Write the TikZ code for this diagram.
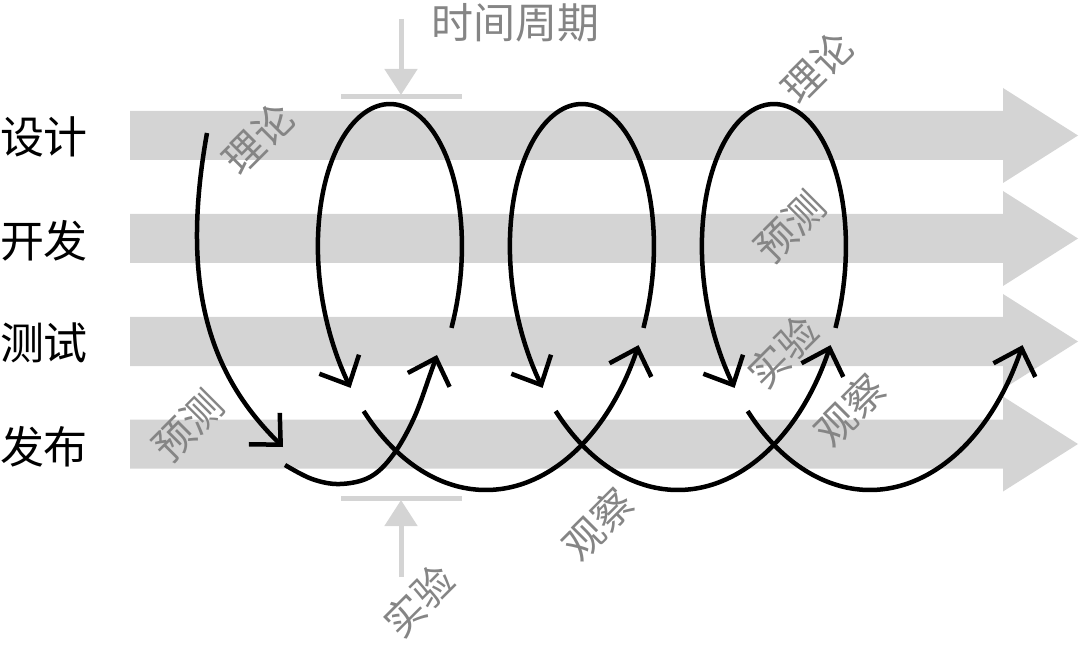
\documentclass[tikz,border=0pt]{standalone}
\usepackage{fontspec}
\setmainfont{Noto Sans CJK SC}
\usepackage{xcolor}
\usepackage{tikz}
\usetikzlibrary{arrows.meta}
\definecolor{bandgray}{HTML}{D4D4D4}
\definecolor{notegray}{HTML}{858585}
\newcommand{\coil}[3]{% turn, from, to
  \draw[loopline] plot[variable=\t, domain=#2:#3, samples=90]
    ({341.9+192*#1+30.56*\t+116*cos(\t r)}, {297-193*sin(\t r)});
}

\begin{document}
\begin{tikzpicture}[x=1pt,y=-1pt,
  loopline/.style={line width=4.5pt, -{Straight Barb[length=23pt,width=44pt]}},
  stage/.style={font=\fontsize{44}{44}\selectfont, text=black},
  phase/.style={font=\fontsize{40}{40}\selectfont, text=notegray, rotate=45},
  tick/.style={draw=bandgray, line width=5pt}]
\useasboundingbox (0,0) rectangle (1080,647);

% wide grey arrows, one per stage
\foreach \y in {135.5,238.5,341.5,444} {
  \fill[bandgray] (130,\y-24.5) -- (1003,\y-24.5) -- (1003,\y-47.5) -- (1078,\y)
    -- (1003,\y+47.5) -- (1003,\y+24.5) -- (130,\y+24.5) -- cycle;
}

% stage names
\node[stage] (design) at (44,137) {设计};
\node[stage] (develop) at (44,241) {开发};
\node[stage] (test) at (44,343) {测试};
\node[stage] (release) at (44,447) {发布};

% time period marks
\node[font=\fontsize{42}{42}\selectfont, text=notegray] (period) at (515,23) {时间周期};
\coordinate (topTail) at (401,19);
\coordinate (topTip) at (401,95);
\draw[tick, -{Triangle[length=26pt,width=32pt]}] (topTail) -- (topTip);
\draw[tick] (341,97) -- (462,97);
\coordinate (botTail) at (401,577);
\coordinate (botTip) at (401,500);
\draw[tick, -{Triangle[length=26pt,width=32pt]}] (botTail) -- (botTip);
\draw[tick] (341,498.5) -- (462,498.5);

% first turn
\draw[loopline] (207,133) .. controls (178,295) and (215,380) .. (283,447);
\draw[loopline] plot[smooth, tension=0.6] coordinates
  {(285,465) (312,479) (340,484) (370,477) (393,455) (414,418) (431,372) (437,355)};

% the spiral
\foreach \n in {0,1,2} {
  \coil{\n}{-0.161}{3.633}
  \coil{\n}{3.774}{6.032}
}

% phase labels
\node[phase] (theoryA) at (258,138) {理论};
\node[phase] (predictA) at (188,426) {预测};
\node[phase] (experimentA) at (419,601) {实验};
\node[phase] (observeA) at (598,524) {观察};
\node[phase] (theoryB) at (817,67) {理论};
\node[phase] (predictB) at (790,227) {预测};
\node[phase] (experimentB) at (783,352) {实验};
\node[phase] (observeB) at (850,410) {观察};

\end{tikzpicture}
\end{document}
